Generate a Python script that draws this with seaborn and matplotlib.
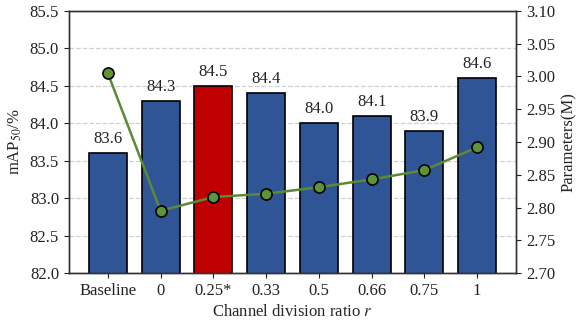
import pandas as pd
import matplotlib.pyplot as plt
import seaborn as sns

# ---- data ----
ratios = ["Baseline", "0", "0.25*", "0.33", "0.5", "0.66", "0.75", "1"]
map50 = [83.6, 84.3, 84.5, 84.4, 84.0, 84.1, 83.9, 84.6]
params = [3.005, 2.795, 2.816, 2.821, 2.831, 2.843, 2.857, 2.892]

df = pd.DataFrame({"ratio": ratios, "map50": map50, "params": params})

sns.set_style("ticks")
plt.rcParams["font.family"] = ["Liberation Serif", "DejaVu Serif"]
plt.rcParams["mathtext.fontset"] = "stix"

blue = "#2F5597"
red = "#C00000"
green = "#5A8A35"
colors = [red if r == "0.25*" else blue for r in ratios]

fig = plt.figure(figsize=(5.78, 3.22), dpi=100)
ax = fig.add_axes([0.119, 0.152, 0.774, 0.814])

sns.barplot(data=df, x="ratio", y="map50", hue="ratio", palette=colors,
            legend=False, width=0.72, edgecolor="black", linewidth=1.2,
            saturation=1, ax=ax, zorder=2)
ax.set_ylim(82.0, 85.5)
ax.set_yticks([82.0, 82.5, 83.0, 83.5, 84.0, 84.5, 85.0, 85.5])
ax.set_yticklabels([f"{v:.1f}" for v in ax.get_yticks()])
ax.yaxis.grid(True, linestyle="--", color="#d0d0d0", linewidth=0.9, zorder=0)
ax.set_axisbelow(True)
ax.set_xlabel("Channel division ratio $r$", fontsize=12)
ax.set_ylabel("mAP$_{50}$/%", fontsize=12)
ax.tick_params(labelsize=12, colors="#222222")
for i, v in enumerate(map50):
    ax.text(i, v + 0.08, f"{v:.1f}", ha="center", va="bottom", fontsize=12,
            color="#222222")

ax2 = ax.twinx()
sns.lineplot(x=range(len(ratios)), y=params, ax=ax2, color=green, linewidth=1.8,
             marker="o", markersize=8, markerfacecolor="#5E9437",
             markeredgecolor="black", markeredgewidth=1.2)
ax2.set_ylim(2.70, 3.10)
ax2.set_yticks([2.70, 2.75, 2.80, 2.85, 2.90, 2.95, 3.00, 3.05, 3.10])
ax2.set_yticklabels([f"{v:.2f}" for v in ax2.get_yticks()])
ax2.set_ylabel("Parameters(M)", fontsize=12)
ax2.tick_params(labelsize=12, colors="#222222")
ax.set_xlim(-0.74, 7.74)

for a in (ax, ax2):
    for s in a.spines.values():
        s.set_color("#333333")
        s.set_linewidth(1.0)

fig.savefig("out.png", dpi=100)
